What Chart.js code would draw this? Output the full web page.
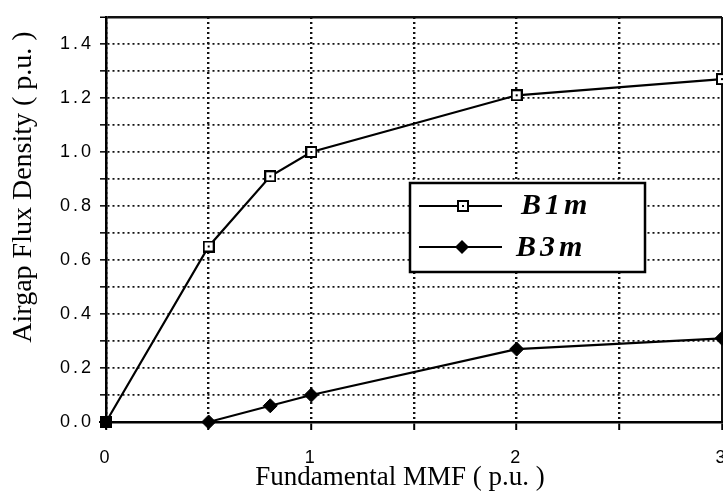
<!DOCTYPE html>
<html>
<head>
<meta charset="utf-8">
<title>Airgap Flux Density vs Fundamental MMF</title>
<script src="https://cdn.jsdelivr.net/npm/chart.js@4.4.1/dist/chart.umd.min.js"></script>
<style>
    html, body { margin: 0; padding: 0; background: #ffffff; }
    #chart { display: block; }
</style>
</head>
<body>
<canvas id="chart" width="723" height="498"></canvas>
<script>
// Fundamental MMF (p.u.) points for each curve
const mmfB1 = [0, 0.5, 0.8, 1, 2, 3];
const mmfB3 = [0, 0.5, 0.8, 1, 2, 3];

// airgap flux density (p.u.)
const fluxB1m = [0, 0.65, 0.91, 1.0, 1.21, 1.27];
const fluxB3m = [0, 0, 0.06, 0.1, 0.27, 0.31];

// series names shown in the legend box
const seriesNames = ['B1m', 'B3m'];

// axis ranges and labelled ticks
const xMin = 0, xMax = 3, xStep = 0.5;
const yMin = 0, yMax = 1.5, yStep = 0.1;
const xTickLabels = ['0', '1', '2', '3'];
const yTickLabels = ['0.0', '0.2', '0.4', '0.6', '0.8', '1.0', '1.2', '1.4'];

// axis titles
const xTitle = 'Fundamental MMF ( p.u. )';
const yTitle = 'Airgap Flux Density ( p.u. )';

// hollow square marker with a dot in the middle
function makeSquareMarker() {
    const c = document.createElement('canvas');
    c.width = 12;
    c.height = 12;
    const g = c.getContext('2d');
    g.fillStyle = '#fff';
    g.fillRect(1, 1, 10, 10);
    g.strokeStyle = '#000';
    g.lineWidth = 2;
    g.strokeRect(1, 1, 10, 10);
    g.fillStyle = '#000';
    g.fillRect(5, 5, 2, 2);
    return c;
}
const squareMarker = makeSquareMarker();

function toPoints(xs, ys) {
    return xs.map((x, i) => ({ x: x, y: ys[i] }));
}

// label only the ticks that appear in the tick label lists
function xLabel(v) {
    const s = String(Math.round(v * 10) / 10);
    return xTickLabels.includes(s) ? s : '';
}
function yLabel(v) {
    const s = (Math.round(v * 10) / 10).toFixed(1);
    return yTickLabels.includes(s) ? s : '';
}

function isEdge(ctx, edge) {
    return ctx.tick && Math.abs(ctx.tick.value - edge) < 1e-6;
}

// ── wide-spaced tick numbers like the printed figure ──
const spacingPlugin = {
    id: 'spacing',
    beforeDraw(chart) {
        chart.ctx.letterSpacing = '3px';
    }
};

// ── axis titles and the boxed legend, drawn by hand ──
const decorPlugin = {
    id: 'decor',
    afterDraw(chart) {
        const ctx = chart.ctx;
        ctx.save();
        ctx.letterSpacing = '0px';
        ctx.fillStyle = '#000';

        // x title
        ctx.font = '27px "Liberation Serif", serif';
        ctx.textAlign = 'center';
        ctx.textBaseline = 'middle';
        ctx.fillText(xTitle, 400, 478);

        // y title, rotated
        ctx.save();
        ctx.font = '28px "Liberation Serif", serif';
        ctx.translate(24, 187);
        ctx.rotate(-Math.PI / 2);
        ctx.fillText(yTitle, 0, 0);
        ctx.restore();

        // legend box
        const bx = 410, by = 183, bw = 235, bh = 89;
        ctx.fillStyle = '#fff';
        ctx.fillRect(bx, by, bw, bh);
        ctx.strokeStyle = '#000';
        ctx.lineWidth = 2.5;
        ctx.strokeRect(bx, by, bw, bh);

        const rows = [206, 247];
        ctx.lineWidth = 2;
        rows.forEach((ry, i) => {
            ctx.beginPath();
            ctx.moveTo(419, ry);
            ctx.lineTo(502, ry);
            ctx.stroke();
            if (i === 0) {
                ctx.drawImage(squareMarker, 463 - 6, ry - 6);
            } else {
                ctx.fillStyle = '#000';
                ctx.beginPath();
                ctx.moveTo(462, ry - 7);
                ctx.lineTo(469, ry);
                ctx.lineTo(462, ry + 7);
                ctx.lineTo(455, ry);
                ctx.closePath();
                ctx.fill();
            }
        });

        ctx.fillStyle = '#000';
        ctx.font = 'italic bold 30px "Liberation Serif", serif';
        ctx.textAlign = 'left';
        ctx.textBaseline = 'middle';
        ctx.letterSpacing = '4px';
        ctx.fillText(seriesNames[0], 521, 206);
        ctx.fillText(seriesNames[1], 516, 248);
        ctx.restore();
    }
};

let fluxChart = null;

function initChart() {
    const canvas = document.getElementById('chart');
    const ctx = canvas.getContext('2d');

    fluxChart = new Chart(ctx, {
        type: 'line',
        data: {
            datasets: [{
                label: seriesNames[0],
                data: toPoints(mmfB1, fluxB1m),
                borderColor: '#000',
                borderWidth: 2.2,
                pointStyle: squareMarker,
                pointRadius: 6,
                tension: 0,
                fill: false,
                clip: false,
                order: 1
            }, {
                label: seriesNames[1],
                data: toPoints(mmfB3, fluxB3m),
                borderColor: '#000',
                borderWidth: 2.2,
                pointStyle: 'rectRot',
                pointRadius: 7,
                pointBackgroundColor: '#000',
                pointBorderColor: '#000',
                pointBorderWidth: 1,
                tension: 0,
                fill: false,
                clip: false,
                order: 0
            }]
        },
        options: {
            responsive: false,
            animation: false,
            events: [],
            layout: {
                autoPadding: false,
                padding: { top: 17, right: 1, left: 0, bottom: 0 }
            },
            plugins: {
                legend: { display: false },
                tooltip: { enabled: false }
            },
            scales: {
                x: {
                    type: 'linear',
                    min: xMin,
                    max: xMax,
                    ticks: {
                        stepSize: xStep,
                        autoSkip: false,
                        maxRotation: 0,
                        padding: 17,
                        color: '#000',
                        font: { family: '"Liberation Sans", Arial, sans-serif', size: 18 },
                        callback: xLabel
                    },
                    grid: {
                        color: '#111',
                        lineWidth: c => isEdge(c, xMax) ? 2.5 : 2.4,
                        tickLength: 8,
                        tickColor: '#000',
                        tickWidth: 2
                    },
                    border: {
                        display: true,
                        color: '#000',
                        width: 2.5,
                        dash: c => isEdge(c, xMax) ? [] : [2, 3]
                    },
                    afterFit(scale) {
                        scale.height = 76;
                        scale.paddingLeft = 0;
                        scale.paddingRight = 0;
                    }
                },
                y: {
                    min: yMin,
                    max: yMax,
                    ticks: {
                        stepSize: yStep,
                        autoSkip: false,
                        padding: 6,
                        color: '#000',
                        font: { family: '"Liberation Sans", Arial, sans-serif', size: 18 },
                        callback: yLabel
                    },
                    grid: {
                        color: '#111',
                        lineWidth: c => isEdge(c, yMax) ? 2.5 : 1.7,
                        tickLength: 6,
                        tickColor: '#000',
                        tickWidth: 1.5
                    },
                    border: {
                        display: true,
                        color: '#000',
                        width: 2.5,
                        dash: c => isEdge(c, yMax) ? [] : [2, 3]
                    },
                    afterFit(scale) {
                        scale.width = 106;
                        scale.paddingTop = 0;
                        scale.paddingBottom = 0;
                    }
                }
            }
        },
        plugins: [spacingPlugin, decorPlugin]
    });
}

document.addEventListener('DOMContentLoaded', function() {
    initChart();
});
</script>
</body>
</html>
